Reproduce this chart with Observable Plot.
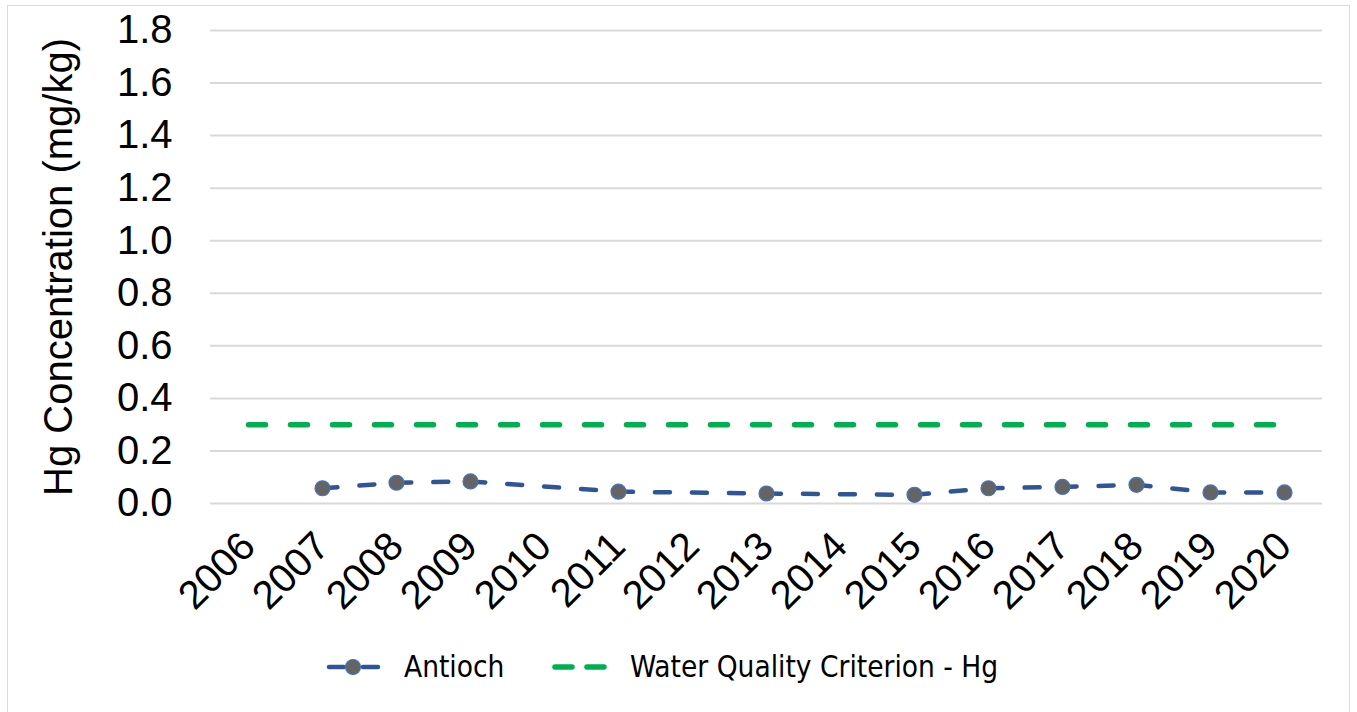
<!DOCTYPE html>
<html>
<head>
<meta charset="utf-8">
<script src="https://cdn.jsdelivr.net/npm/d3@7"></script>
<script src="https://cdn.jsdelivr.net/npm/@observablehq/plot@0.6"></script>
<style>
  html, body { margin: 0; padding: 0; background: #fff; }
  body { width: 1357px; height: 712px; position: relative; overflow: hidden; font-family: "Liberation Sans", Arial, sans-serif; }
  #frame { position: absolute; left: 7px; top: 5px; width: 1343px; height: 730px; border: 1.5px solid #d9d9d9; box-sizing: border-box; }
  #chart { position: absolute; left: 0; top: 0; }
  #legend { position: absolute; left: 0; top: 645px; width: 1357px; height: 45px; }
  #legend .lbl { position: absolute; top: 4px; font-family: "Liberation Sans Narrow", "DejaVu Sans Condensed", sans-serif; font-size: 29.5px; color: #000; white-space: nowrap; line-height: 36px; }
  #legend svg { position: absolute; top: 0; }
</style>
</head>
<body>
<div id="frame"></div>
<div id="chart"></div>
<div id="legend"></div>
<script>
// ---- data ----
const years = ["2006","2007","2008","2009","2010","2011","2012","2013","2014","2015","2016","2017","2018","2019","2020"];
const antiochYears = ["2007","2008","2009","2011","2013","2015","2016","2017","2018","2019","2020"];
const antiochValues = [0.058, 0.079, 0.084, 0.045, 0.038, 0.033, 0.058, 0.063, 0.071, 0.042, 0.042];
const criterionYears = ["2006","2020"];
const criterionValues = [0.3, 0.3];
const yTicks = [0, 0.2, 0.4, 0.6, 0.8, 1.0, 1.2, 1.4, 1.6, 1.8];
const yLabel = "Hg Concentration (mg/kg)";
const seriesNames = ["Antioch", "Water Quality Criterion - Hg"];

const antioch = antiochYears.map((y, i) => ({year: y, value: antiochValues[i]}));
const criterion = criterionYears.map((y, i) => ({year: y, value: criterionValues[i]}));

const blue = "#2f5597", green = "#00b050";

const plot = Plot.plot({
  width: 1357,
  height: 640,
  marginLeft: 210,
  marginRight: 35,
  marginTop: 30,
  marginBottom: 137,
  style: {fontFamily: "'Liberation Sans', Arial, sans-serif", background: "transparent", overflow: "visible"},
  x: {type: "point", domain: years, padding: 0.5, align: 0.5},
  y: {domain: [0, 1.8]},
  marks: [
    Plot.ruleY(yTicks, {stroke: "#d9d9d9", strokeWidth: 2}),
    Plot.axisY({ticks: yTicks, tickFormat: d3.format(".1f"), tickSize: 0, tickPadding: 38, fontSize: 40, label: null, color: "#000"}),
    Plot.axisX({tickRotate: -45, tickSize: 0, tickPadding: 36, fontSize: 40, label: null, color: "#000"}),
    Plot.text([yLabel], {frameAnchor: "left", dx: -151, rotate: -90, textAnchor: "middle", fontSize: 40, fill: "#000"}),
    Plot.lineY(criterion, {x: "year", y: "value", stroke: green, strokeWidth: 5.5, strokeDasharray: "17 25", strokeLinecap: "round"}),
    Plot.lineY(antioch, {x: "year", y: "value", stroke: blue, strokeWidth: 4.5, strokeDasharray: "15 22", strokeLinecap: "round"}),
    Plot.dot(antioch, {x: "year", y: "value", r: 7.5, fill: "#646464", stroke: "#4472c4", strokeWidth: 1.2})
  ]
});
document.getElementById("chart").appendChild(plot);

// ---- legend ----
const lg = document.getElementById("legend");
lg.innerHTML = `
  <svg style="left:320px" width="70" height="45">
    <line x1="9" y1="22" x2="58" y2="22" stroke="${blue}" stroke-width="4.5" stroke-linecap="round" stroke-dasharray="15 19"/>
    <circle cx="33" cy="22" r="7.5" fill="#646464" stroke="#4472c4" stroke-width="1.2"/>
  </svg>
  <span class="lbl" style="left:404px">${seriesNames[0]}</span>
  <svg style="left:545px" width="70" height="45">
    <line x1="10" y1="22" x2="59" y2="22" stroke="${green}" stroke-width="5.5" stroke-linecap="round" stroke-dasharray="17 15"/>
  </svg>
  <span class="lbl" style="left:630px">${seriesNames[1]}</span>
`;
</script>
</body>
</html>
